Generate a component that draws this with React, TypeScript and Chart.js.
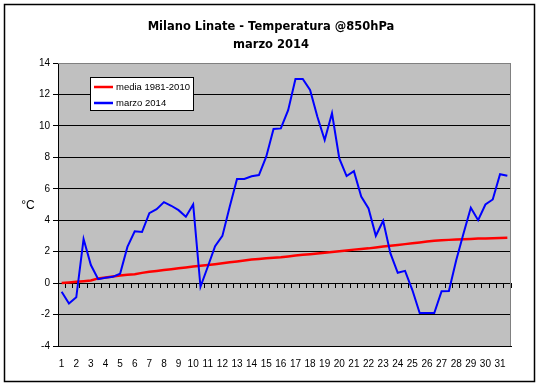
import React, { useEffect, useRef } from 'react';
import { Chart, registerables } from 'chart.js';

Chart.register(...registerables);

const titleLines = ['Milano Linate - Temperatura @850hPa', 'marzo 2014'];
const yTitle = '°C';
const days = [1, 2, 3, 4, 5, 6, 7, 8, 9, 10, 11, 12, 13, 14, 15, 16, 17, 18, 19, 20, 21, 22, 23, 24, 25, 26, 27, 28, 29, 30, 31];
const runs = ['00', '12'];
const yTicks = [-4, -2, 0, 2, 4, 6, 8, 10, 12, 14];
const mediaLabel = 'media 1981-2010';
const marzoLabel = 'marzo 2014';

// 00Z and 12Z values for each day
const media = [
  0.0, 0.04, 0.08, 0.12, 0.17, 0.3, 0.36, 0.42, 0.48, 0.53,
  0.57, 0.65, 0.72, 0.77, 0.83, 0.88, 0.94, 1.0, 1.05, 1.1,
  1.15, 1.2, 1.26, 1.32, 1.38, 1.44, 1.5, 1.54, 1.58, 1.62,
  1.65, 1.7, 1.75, 1.8, 1.84, 1.88, 1.93, 1.98, 2.03, 2.08,
  2.13, 2.17, 2.21, 2.27, 2.33, 2.38, 2.43, 2.48, 2.54, 2.59,
  2.64, 2.69, 2.72, 2.75, 2.77, 2.79, 2.81, 2.83, 2.84, 2.86,
  2.87, 2.88,
];
const marzo = [
  -0.55, -1.3, -0.9, 2.8, 1.15, 0.25, 0.34, 0.4, 0.6, 2.3,
  3.3, 3.25, 4.45, 4.7, 5.15, 4.92, 4.64, 4.22, 5.0, -0.23,
  1.04, 2.35, 3.0, 4.85, 6.62, 6.62, 6.8, 6.87, 8.04, 9.8,
  9.84, 11.0, 12.98, 12.98, 12.28, 10.58, 9.1, 10.8, 7.93, 6.81,
  7.12, 5.5, 4.75, 3.01, 3.96, 1.89, 0.66, 0.78, -0.44, -1.9,
  -1.9, -1.9, -0.51, -0.5, 1.46, 3.16, 4.79, 4.0, 5.0, 5.32,
  6.93, 6.83,
];

const categories = days.flatMap((d) => runs.map((r) => `${d} ${r}Z`));

const decor = {
  id: 'decor',
  beforeDraw(chart: any) {
    const { ctx, chartArea: a, width, height } = chart;
    ctx.save();
    ctx.fillStyle = '#ffffff';
    ctx.fillRect(0, 0, width, height);
    ctx.fillStyle = '#c0c0c0';
    ctx.fillRect(a.left, a.top, a.right - a.left, a.bottom - a.top);
    ctx.strokeStyle = '#000';
    ctx.lineWidth = 1.5;
    ctx.strokeRect(4.5, 4.5, 530, 377);
    ctx.fillStyle = '#000';
    ctx.textAlign = 'center';
    ctx.textBaseline = 'middle';
    ctx.font = 'bold 11.5px "DejaVu Sans"';
    ctx.fillText(titleLines[0], 271, 27);
    ctx.fillText(titleLines[1], 271, 45);
    ctx.font = '12px "Liberation Sans"';
    ctx.fillText(yTitle, 28, 206);
    ctx.restore();
  },
  beforeDatasetsDraw(chart: any) {
    const { ctx, chartArea: a } = chart;
    ctx.save();
    ctx.strokeStyle = '#808080';
    ctx.lineWidth = 1;
    ctx.beginPath();
    ctx.moveTo(a.left, a.top + 0.5);
    ctx.lineTo(a.right - 0.5, a.top + 0.5);
    ctx.lineTo(a.right - 0.5, a.bottom);
    ctx.stroke();
    ctx.restore();
  },
  afterDatasetsDraw(chart: any) {
    const { ctx } = chart;
    ctx.save();
    ctx.fillStyle = '#fff';
    ctx.fillRect(90, 77, 104, 34);
    ctx.strokeStyle = '#000';
    ctx.lineWidth = 1;
    ctx.strokeRect(90.5, 77.5, 103, 33);
    ctx.lineWidth = 2.5;
    ctx.strokeStyle = '#ff0000';
    ctx.beginPath();
    ctx.moveTo(94, 87);
    ctx.lineTo(113, 87);
    ctx.stroke();
    ctx.strokeStyle = '#0000ff';
    ctx.beginPath();
    ctx.moveTo(94, 103);
    ctx.lineTo(113, 103);
    ctx.stroke();
    ctx.fillStyle = '#000';
    ctx.font = '9.5px "Liberation Sans"';
    ctx.textAlign = 'left';
    ctx.textBaseline = 'middle';
    ctx.fillText(mediaLabel, 116, 87.5);
    ctx.fillText(marzoLabel, 116, 103.5);
    ctx.restore();
  },
};

export default function App() {
  const ref = useRef<HTMLCanvasElement | null>(null);
  useEffect(() => {
    if (!ref.current) return;
    const chart = new Chart(ref.current, {
      type: 'line',
      data: {
        labels: categories,
        datasets: [
          {
            label: marzoLabel,
            data: marzo,
            borderColor: '#0000ff',
            borderWidth: 2,
            pointRadius: 0,
            tension: 0,
            fill: false,
            order: 1,
          },
          {
            label: mediaLabel,
            data: media,
            borderColor: '#ff0000',
            borderWidth: 2.5,
            pointRadius: 0,
            tension: 0,
            fill: false,
            order: 2,
          },
        ],
      },
      plugins: [decor],
      options: {
        responsive: false,
        animation: false,
        devicePixelRatio: 1,
        layout: { padding: { top: 63, right: 30, bottom: 0, left: 0 } },
        plugins: { legend: { display: false }, title: { display: false }, tooltip: { enabled: false } },
        scales: {
          x: {
            type: 'category',
            offset: true,
            grid: { display: false, drawTicks: false },
            border: { display: true, color: '#000', width: 1 },
            ticks: {
              autoSkip: false,
              maxRotation: 0,
              minRotation: 0,
              padding: 12,
              color: '#000',
              font: { family: 'Liberation Sans', size: 10 },
              callback: (_v: any, i: number) => (i % 2 === 0 ? String(days[i / 2]) : ''),
            },
            afterFit: (s: any) => {
              s.height = 40;
            },
          },
          x2: {
            type: 'category',
            position: { y: 0 } as any,
            offset: true,
            grid: { display: true, drawOnChartArea: false, drawTicks: true, tickLength: 4, color: '#000', offset: true },
            border: { display: true, color: '#000', width: 1 },
            ticks: { display: false },
          },
          y: {
            min: -4,
            max: 14,
            afterBuildTicks: (s: any) => {
              s.ticks = yTicks.map((v) => ({ value: v }));
            },
            grid: {
              color: (c: any) => (c.tick && c.tick.value === 14 ? '#808080' : '#000'),
              tickColor: '#000',
              lineWidth: 1,
              drawTicks: true,
              tickLength: 5,
            },
            border: { display: true, color: '#000', width: 1 },
            ticks: {
              padding: 3,
              color: '#000',
              font: { family: 'Liberation Sans', size: 10 },
            },
            afterFit: (s: any) => {
              s.width = 58;
            },
          },
        },
      },
    });
    return () => chart.destroy();
  }, []);
  return (
    <div style={{ position: 'fixed', left: 0, top: 0, width: 541, height: 386 }}>
      <canvas ref={ref} width={541} height={386} style={{ width: 541, height: 386, display: 'block' }} />
    </div>
  );
}
